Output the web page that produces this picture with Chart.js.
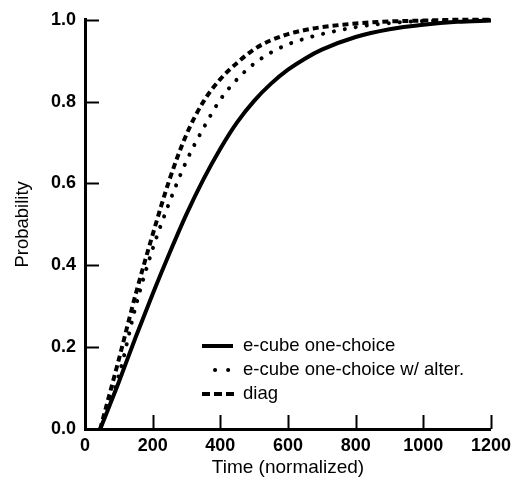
<!DOCTYPE html>
<html>
<head>
<meta charset="utf-8">
<script src="https://cdn.jsdelivr.net/npm/chart.js@4.4.0/dist/chart.umd.min.js"></script>
<style>
  html, body { margin: 0; padding: 0; background: #fff; }
</style>
</head>
<body>
<canvas id="grafico" width="517" height="486"></canvas>
<script>
// valores
const tempos = [45, 100, 150, 200, 250, 300, 350, 400, 450, 500, 550, 600, 650, 700, 800, 900, 1000, 1100, 1200];
const umaEscolha = [0, 0.115, 0.225, 0.33, 0.43, 0.525, 0.61, 0.685, 0.75, 0.802, 0.844, 0.878, 0.905, 0.927, 0.958, 0.977, 0.988, 0.995, 0.998];
const comAlternativa = [0, 0.13, 0.30, 0.44, 0.555, 0.655, 0.735, 0.805, 0.855, 0.893, 0.92, 0.94, 0.954, 0.965, 0.982, 0.992, 0.997, 0.999, 1.0];
const diag = [0, 0.17, 0.33, 0.475, 0.61, 0.72, 0.80, 0.855, 0.895, 0.928, 0.95, 0.965, 0.975, 0.982, 0.991, 0.996, 0.998, 1.0, 1.0];
const rotulos = ["e-cube one-choice", "e-cube one-choice w/ alter.", "diag"];
const ticksX = [0, 200, 400, 600, 800, 1000, 1200];
const ticksY = [0, 0.2, 0.4, 0.6, 0.8, 1.0];

const fonte = "'Liberation Sans', Arial, sans-serif";

function pontos(valores) {
  return tempos.map((t, i) => ({ x: t, y: valores[i] }));
}

// tracinhos para dentro dos eixos
const marcasInternas = {
  id: "marcasInternas",
  afterDatasetsDraw(chart) {
    const { ctx, chartArea: a, scales } = chart;
    ctx.save();
    ctx.strokeStyle = "#000";
    ctx.lineWidth = 2;
    ticksX.forEach((v) => {
      const px = Math.round(scales.x.getPixelForValue(v)) + 0.5;
      ctx.beginPath();
      ctx.moveTo(px, a.bottom);
      ctx.lineTo(px, a.bottom - 14);
      ctx.stroke();
    });
    ticksY.forEach((v) => {
      const py = Math.round(scales.y.getPixelForValue(v)) + 0.5;
      ctx.beginPath();
      ctx.moveTo(a.left, py);
      ctx.lineTo(a.left + 14, py);
      ctx.stroke();
    });
    ctx.restore();
  },
};

// legenda dentro da area do grafico
const amostras = [
  { de: 202, ate: 233, traco: [] },
  { de: 215, ate: 229, traco: [0.1, 13] },
  { de: 202, ate: 234, traco: [8, 4] },
];
const legendaInterna = {
  id: "legendaInterna",
  afterDraw(chart) {
    const ctx = chart.ctx;
    const xt = 243;
    const ys = [346, 370, 394];
    ctx.save();
    chart.data.datasets.forEach((ds, i) => {
      const am = amostras[i];
      ctx.strokeStyle = "#000";
      ctx.lineWidth = ds.borderWidth;
      ctx.lineCap = ds.borderCapStyle || "butt";
      ctx.setLineDash(am.traco);
      ctx.beginPath();
      ctx.moveTo(am.de, ys[i]);
      ctx.lineTo(am.ate, ys[i]);
      ctx.stroke();
      ctx.setLineDash([]);
      ctx.fillStyle = "#000";
      ctx.font = "18.5px " + fonte;
      ctx.textBaseline = "middle";
      ctx.fillText(ds.label, xt, ys[i]);
    });
    ctx.restore();
  },
};

const ctx = document.getElementById("grafico").getContext("2d");
new Chart(ctx, {
  type: "line",
  data: {
    datasets: [
      {
        label: rotulos[0],
        data: pontos(umaEscolha),
        borderColor: "#000",
        borderWidth: 4,
        pointRadius: 0,
        cubicInterpolationMode: "monotone",
        clip: 6,
      },
      {
        label: rotulos[1],
        data: pontos(comAlternativa),
        borderColor: "#000",
        borderWidth: 4,
        borderDash: [0.1, 11],
        borderCapStyle: "round",
        pointRadius: 0,
        cubicInterpolationMode: "monotone",
        clip: 6,
      },
      {
        label: rotulos[2],
        data: pontos(diag),
        borderColor: "#000",
        borderWidth: 4,
        borderDash: [6, 4],
        pointRadius: 0,
        cubicInterpolationMode: "monotone",
        clip: 6,
      },
    ],
  },
  options: {
    responsive: false,
    animation: false,
    events: [],
    layout: { padding: { left: 0, right: 25, top: 19, bottom: 0 } },
    plugins: { legend: { display: false }, tooltip: { enabled: false } },
    scales: {
      x: {
        type: "linear",
        min: 0,
        max: 1200,
        afterBuildTicks: (s) => { s.ticks = ticksX.map((v) => ({ value: v })); },
        afterFit: (s) => { s.height = 57; },
        grid: { display: false, drawTicks: false },
        border: { display: true, color: "#000", width: 3 },
        ticks: {
          color: "#000",
          padding: 6,
          maxRotation: 0,
          callback: (v) => String(v),
          font: { family: fonte, size: 18, weight: "bold" },
        },
        title: {
          display: true,
          text: "Time (normalized)",
          color: "#000",
          padding: { top: 0, bottom: 7 },
          font: { family: fonte, size: 19 },
        },
      },
      y: {
        min: 0,
        max: 1,
        afterBuildTicks: (s) => { s.ticks = ticksY.map((v) => ({ value: v })); },
        afterFit: (s) => { s.width = 85; },
        grid: { display: false, drawTicks: false },
        border: { display: true, color: "#000", width: 3 },
        ticks: {
          color: "#000",
          padding: 9,
          callback: (v) => v.toFixed(1),
          font: { family: fonte, size: 18, weight: "bold" },
        },
        title: {
          display: true,
          text: "Probability",
          color: "#000",
          padding: { top: 12, bottom: 0 },
          font: { family: fonte, size: 18.5 },
        },
      },
    },
  },
  plugins: [marcasInternas, legendaInterna],
});
</script>
</body>
</html>
